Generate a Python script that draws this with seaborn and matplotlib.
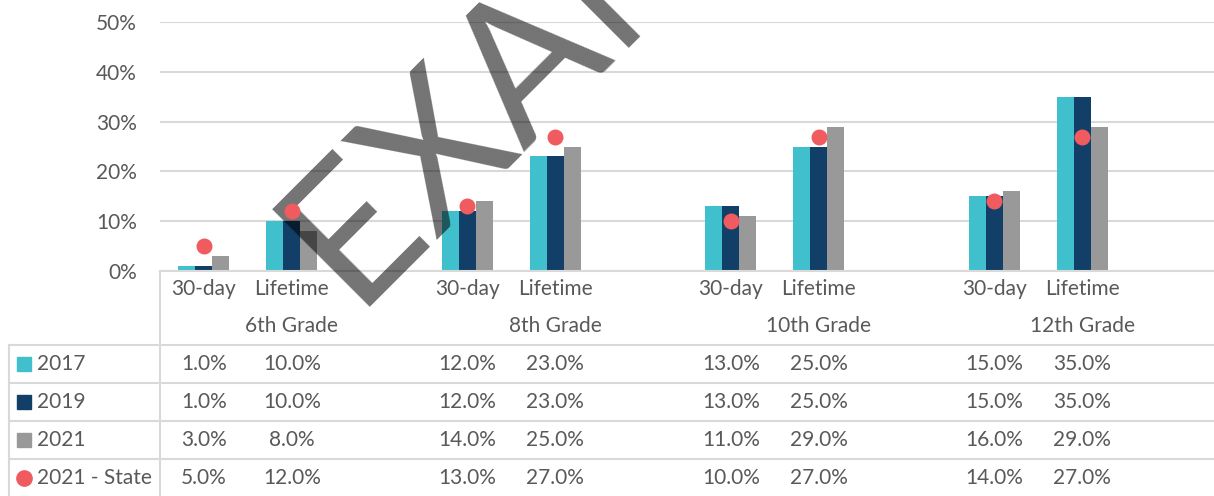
import matplotlib
matplotlib.use('Agg')
import matplotlib.pyplot as plt
import seaborn as sns
import pandas as pd
from matplotlib.lines import Line2D
from matplotlib.transforms import blended_transform_factory

# 数据
grades = ['6th Grade', '8th Grade', '10th Grade', '12th Grade']
measures = ['30-day', 'Lifetime']
years = ['2017', '2019', '2021']
vals_2017 = [1.0, 10.0, 12.0, 23.0, 13.0, 25.0, 15.0, 35.0]
vals_2019 = [1.0, 10.0, 12.0, 23.0, 13.0, 25.0, 15.0, 35.0]
vals_2021 = [3.0, 8.0, 14.0, 25.0, 11.0, 29.0, 16.0, 29.0]
vals_state = [5.0, 12.0, 13.0, 27.0, 10.0, 27.0, 14.0, 27.0]
state_label = '2021 - State'

colors = {'2017': '#40C0CD', '2019': '#113F67', '2021': '#999999'}
state_color = '#EF5B5F'
text_color = '#595959'
line_color = '#d9d9d9'

W, H = 1214, 496


def fx(px):
    return px / W


def fy(py):
    return 1 - py / H


# 每个年级三个位置: 30-day, Lifetime, 空白
order = []
for g in grades:
    order += [g + '|30-day', g + '|Lifetime', g + '|gap']

cats = [g + '|' + m for g in grades for m in measures]
series = {'2017': vals_2017, '2019': vals_2019, '2021': vals_2021}
rows = []
for y in years:
    for c, v in zip(cats, series[y]):
        rows.append({'cat': c, 'year': y, 'value': v / 100})
bar_df = pd.DataFrame(rows)
state_df = pd.DataFrame({'cat': cats, 'value': [v / 100 for v in vals_state]})

plt.rcParams['font.family'] = ['Lato', 'DejaVu Sans']
fig = plt.figure(figsize=(W / 100, H / 100), dpi=100)
ax = fig.add_axes([fx(160), fy(271), fx(1214) - fx(160), fy(22) - fy(271)])

sns.barplot(data=bar_df, x='cat', y='value', hue='year', order=order, hue_order=years,
            palette=colors, width=0.58, saturation=1, linewidth=0, legend=False, ax=ax, zorder=2)
sns.stripplot(data=state_df, x='cat', y='value', order=order, jitter=False, color=state_color,
              size=11.5, linewidth=0, ax=ax, zorder=4)

ax.set_xlim(-0.5, len(order) - 0.5)
ax.set_ylim(0, 0.5)
ax.set_yticks([0, 0.1, 0.2, 0.3, 0.4, 0.5])
ax.set_yticklabels(['0%', '10%', '20%', '30%', '40%', '50%'], color=text_color, fontsize=15)
ax.tick_params(axis='y', length=0, pad=16.5)
ax.set_xticks([])
ax.set_xlabel('')
ax.set_ylabel('')
ax.yaxis.grid(True, color=line_color, lw=1.5, zorder=0)
ax.set_axisbelow(True)
for s in ['top', 'right', 'left']:
    ax.spines[s].set_visible(False)
ax.spines['bottom'].set_color(line_color)
ax.spines['bottom'].set_linewidth(1.5)

trans = blended_transform_factory(ax.transData, fig.transFigure)

# 分类标签
for gi, g in enumerate(grades):
    for mi, m in enumerate(measures):
        ax.text(3 * gi + mi, fy(289), m, transform=trans, ha='center', va='center',
                fontsize=15, color=text_color)
    ax.text(3 * gi + 1, fy(326), g, transform=trans, ha='center', va='center',
            fontsize=15, color=text_color)

# 数据表
row_y = [364, 402, 440, 478]
table_series = [vals_2017, vals_2019, vals_2021, vals_state]
labels = years + [state_label]
for ri, (lab, vals) in enumerate(zip(labels, table_series)):
    for gi in range(len(grades)):
        for mi in range(len(measures)):
            v = vals[gi * 2 + mi]
            ax.text(3 * gi + mi, fy(row_y[ri]), f'{v:.1f}%', transform=trans, ha='center',
                    va='center', fontsize=15, color=text_color)
    if ri < 3:
        fig.add_artist(Line2D([fx(24)], [fy(row_y[ri])], marker='s', markersize=10,
                              color=colors[lab], lw=0))
    else:
        fig.add_artist(Line2D([fx(24)], [fy(row_y[ri])], marker='o', markersize=11,
                              color=state_color, lw=0))
    fig.text(fx(37), fy(row_y[ri]), lab, ha='left', va='center', fontsize=15, color=text_color)

for py in [345, 383, 421, 459]:
    fig.add_artist(Line2D([fx(9), fx(1214)], [fy(py), fy(py)], color=line_color, lw=1.5))
fig.add_artist(Line2D([fx(160), fx(160)], [fy(271), fy(496)], color=line_color, lw=1.5))
fig.add_artist(Line2D([fx(9), fx(9)], [fy(345), fy(496)], color=line_color, lw=1.5))

# 水印 (在柱子上方, 圆点下方)
ax.text(fx(352), fy(307), 'EXAMPLE', transform=fig.transFigure, rotation=45,
        rotation_mode='anchor', ha='left', va='baseline', fontsize=139, color='black',
        alpha=0.55, zorder=3.5, clip_on=False)

fig.savefig('out.png', dpi=100)
